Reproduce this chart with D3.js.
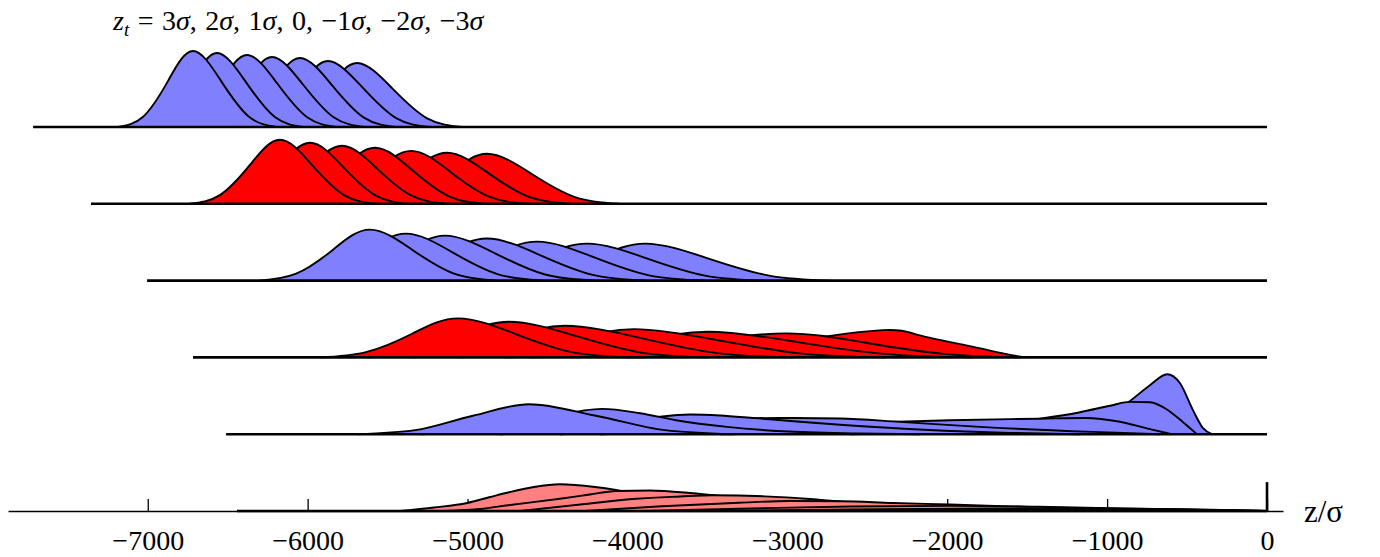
<!DOCTYPE html>
<html><head><meta charset="utf-8">
<script src="https://cdn.jsdelivr.net/npm/d3@7"></script>
<style>html,body{margin:0;padding:0;background:#fff;} svg{display:block;}</style>
</head><body>
<svg id="chart" width="1380" height="557"></svg>
<script>
// Initial offsets z_t of the seven bunch slices (legend order)
const ztLabels = ["3σ", "2σ", "1σ", "0", "−1σ", "−2σ", "−3σ"];
// x-axis ticks in units of z/σ
const tickValues = [-7000, -6000, -5000, -4000, -3000, -2000, -1000, 0];
// one entry per snapshot row, top to bottom
const rowColors = ["#8080ff", "#ff0000", "#8080ff", "#ff0000", "#8080ff", "#ff8080"];
const rowStart = [-7717, -7355, -7004, -6717, -6510, -6442];
const leftOnTop = [true, true, true, true, true, false];
// rows whose profiles are smooth bell shapes use a natural spline
const smoothRow = [true, true, true, true, false, false];
// wall at z = 0 (relative height)
const wallHeight = 38;

// Density profiles: [z/σ, relative density] knots, one list per z_t
const row1 = [
  [[-7186,0],[-7029,13.5],[-6873,60.7],[-6717,100],[-6542,60.7],[-6367,13.5],[-6192,0]],
  [[-7035,0],[-6879,13.1],[-6723,59.1],[-6567,97.4],[-6386,59.1],[-6205,13.1],[-6024,0]],
  [[-6868,0],[-6705,12.8],[-6542,57.5],[-6379,94.7],[-6191,57.5],[-6003,12.8],[-5815,0]],
  [[-6712,0],[-6549,12.4],[-6386,55.9],[-6223,92.1],[-6029,55.9],[-5835,12.4],[-5641,0]],
  [[-6555,0],[-6386,12.3],[-6217,55.1],[-6048,90.8],[-5848,55.1],[-5648,12.3],[-5448,0]],
  [[-6380,0],[-6211,11.7],[-6042,52.7],[-5873,86.8],[-5660,52.7],[-5447,11.7],[-5234,0]],
  [[-6216,0],[-6041,11.4],[-5866,51.1],[-5691,84.2],[-5472,51.1],[-5253,11.4],[-5034,0]]
];
const row2 = [
  [[-6737,0],[-6549,11.4],[-6361,51.1],[-6173,84.2],[-5973,51.1],[-5773,11.4],[-5573,0]],
  [[-6567,0],[-6373,10.8],[-6179,48.7],[-5985,80.3],[-5779,48.7],[-5573,10.8],[-5367,0]],
  [[-6403,0],[-6197,10.3],[-5991,46.3],[-5785,76.3],[-5566,46.3],[-5347,10.3],[-5128,0]],
  [[-6218,0],[-6005,9.9],[-5792,44.7],[-5579,73.7],[-5348,44.7],[-5117,9.9],[-4886,0]],
  [[-6028,0],[-5803,9.4],[-5578,42.3],[-5353,69.7],[-5109,42.3],[-4865,9.4],[-4621,0]],
  [[-5821,0],[-5590,9.1],[-5359,40.7],[-5128,67.1],[-4872,40.7],[-4616,9.1],[-4360,0]],
  [[-5571,0],[-5340,8.9],[-5109,39.9],[-4878,65.8],[-4603,39.9],[-4328,8.9],[-4053,0]]
];
const row3 = [
  [[-6303,0],[-6072,9.1],[-5841,40.7],[-5610,67.1],[-5347,40.7],[-5084,9.1],[-4821,0]],
  [[-6135,0],[-5885,8.3],[-5635,37.5],[-5385,61.8],[-5097,37.5],[-4809,8.3],[-4521,0]],
  [[-5891,0],[-5641,8.0],[-5391,35.9],[-5141,59.2],[-4828,35.9],[-4515,8.0],[-4202,0]],
  [[-5685,0],[-5416,7.5],[-5147,33.6],[-4878,55.3],[-4547,33.6],[-4216,7.5],[-3885,0]],
  [[-5447,0],[-5153,6.9],[-4859,31.1],[-4565,51.3],[-4215,31.1],[-3865,6.9],[-3515,0]],
  [[-5171,0],[-4865,6.6],[-4559,29.6],[-4253,48.7],[-3884,29.6],[-3515,6.6],[-3146,0]],
  [[-4790,0],[-4490,6.6],[-4190,29.6],[-3890,48.7],[-3502,29.6],[-3114,6.6],[-2726,0]]
];
const row4 = [
  [[-5923,0],[-5635,6.9],[-5347,31.1],[-5059,51.3],[-4703,31.1],[-4347,6.9],[-3991,0]],
  [[-5623,0],[-5329,6.3],[-5035,28.5],[-4741,47.0],[-4328,28.5],[-3915,6.3],[-3502,0]],
  [[-5347,0],[-5028,5.6],[-4709,25.3],[-4390,41.7],[-3915,25.3],[-3440,5.6],[-2965,0]],
  [[-5048,0],[-4685,5.0],[-4322,22.6],[-3959,37.2],[-3434,22.6],[-2909,5.0],[-2384,0]],
  [[-4771,0],[-4346,4.6],[-3921,20.5],[-3496,33.8],[-2946,20.5],[-2396,4.6],[-1846,0]],
  [[-4604,0],[-4072,4.3],[-3540,19.2],[-3008,31.6],[-2508,19.2],[-2008,4.3],[-1540,0]],
  [[-3998,0],[-3466,4.8],[-2934,21.8],[-2402,35.9],[-2170,28.9],[-1882,15.8],[-1651,5.3],[-1513,0]]
];
const row5 = [
  [[-5685,0],[-5328,5.3],[-4972,24.0],[-4615,39.5],[-4190,24.0],[-3765,5.3],[-3340,0]],
  [[-5285,0],[-4909,4.5],[-4534,20.3],[-4159,33.3],[-3921,27.6],[-3696,18.4],[-3377,9.6],[-3027,3.9],[-2545,1.1],[-2170,0]],
  [[-4797,0],[-4422,4.6],[-4046,14.5],[-3796,23.0],[-3609,25.9],[-3421,24.7],[-3202,21.1],[-2921,16.4],[-2670,12.5],[-2145,5.9],[-1607,1.7],[-1169,0]],
  [[-4422,0],[-4046,4.6],[-3671,13.2],[-3358,19.7],[-3046,21.4],[-2670,20.7],[-2295,16.2],[-1795,9.6],[-1088,3.0],[-669,0]],
  [[-4171,0],[-3546,3.9],[-2921,11.2],[-2420,15.8],[-1983,18.4],[-1420,20.4],[-1138,21.4],[-919,16.4],[-732,6.6],[-594,0]],
  [[-3421,0],[-2608,3.9],[-1983,10.5],[-1670,14.5],[-1420,20.4],[-1169,28.9],[-982,37.5],[-857,42.5],[-732,42.1],[-619,31.6],[-525,15.8],[-438,0]],
  [[-2608,0],[-1670,5.3],[-1295,10.5],[-1044,21.1],[-876,40.8],[-732,64.5],[-625,78.9],[-544,67.1],[-463,31.6],[-400,7.9],[-344,0]]
];
const row6 = [
  [[-5422,0],[-5210,4.6],[-5003,10.5],[-4859,18.4],[-4734,25.0],[-4584,31.6],[-4422,35.1],[-4203,31.6],[-4071,27.6],[-3859,18.4],[-3609,9.2],[-3296,2.6],[-2921,0]],
  [[-5141,0],[-4922,2.6],[-4747,7.5],[-4422,16.2],[-4234,21.7],[-4071,26.3],[-3859,27.0],[-3609,23.7],[-3465,20.7],[-3171,14.5],[-2796,7.9],[-2295,3.3],[-1670,0]],
  [[-4672,0],[-4265,9.2],[-3946,16.2],[-3671,19.1],[-3465,20.7],[-3140,19.3],[-2858,15.8],[-2608,11.2],[-2295,7.2],[-1795,3.9],[-1044,1.3],[-294,0]],
  [[-4265,0],[-3784,6.2],[-3302,10.9],[-2983,13.2],[-2658,12.9],[-2339,10.5],[-1983,8.6],[-1376,4.6],[-732,2.0],[-13,0]],
  [[-3921,0],[-3233,3.3],[-2608,5.9],[-1983,6.8],[-1357,5.3],[-732,2.6],[0,0]],
  [[-3546,0],[-2608,2.0],[-1670,3.4],[-1044,3.4],[-419,2.0],[0,0]],
  [[-3171,0],[-2295,0.8],[-1357,1.6],[-544,1.6],[0,0]]
];
const rows = [row1, row2, row3, row4, row5, row6];

const serif = "'Liberation Serif', 'Times New Roman', serif";
const svg = d3.select("#chart");

const x = d3.scaleLinear().domain([-7874, 100]).range([8, 1283]);
const rowY = d3.scaleLinear().domain([0, rows.length - 1]).range([127, 511]);
const dens = d3.scaleLinear().domain([0, 100]).range([0, 76]);

// horizontal axis along the last row
const axis = d3.axisBottom(x).tickValues(tickValues)
  .tickFormat(d3.format("d")).tickSizeInner(-12).tickSizeOuter(0).tickPadding(19.5);
const ax = svg.append("g").attr("transform", `translate(0,${rowY(rows.length - 1)})`).call(axis);
ax.select(".domain").attr("stroke", "#000").attr("stroke-width", 1.3);
ax.selectAll(".tick line").attr("stroke", "#000").attr("stroke-width", 1.3);
ax.selectAll(".tick text").attr("font-family", serif).attr("font-size", 28).attr("fill", "#000");

svg.append("text").attr("x", 1304).attr("y", 522)
  .attr("font-family", serif).attr("font-size", 31).text("z/σ");

// ridgeline rows
rows.forEach((curves, i) => {
  const base = rowY(i);
  const g = svg.append("g");
  const curve = smoothRow[i] ? d3.curveNatural : d3.curveMonotoneX;
  const area = d3.area().x(d => x(d[0])).y0(base).y1(d => base - dens(Math.max(0, d[1]))).curve(curve);
  const line = d3.line().x(d => x(d[0])).y(d => base - dens(d[1])).curve(curve);
  const order = leftOnTop[i] ? curves.slice().reverse() : curves.slice();
  order.forEach(c => {
    g.append("path").attr("d", area(c)).attr("fill", rowColors[i]);
    g.append("path").attr("d", line(c)).attr("fill", "none")
      .attr("stroke", "#000").attr("stroke-width", 1.9).attr("stroke-linejoin", "round");
  });
  g.append("line")
    .attr("x1", x(rowStart[i])).attr("x2", x(0))
    .attr("y1", base).attr("y2", base)
    .attr("stroke", "#000").attr("stroke-width", 2.6);
});

// wall at z = 0
svg.append("line")
  .attr("x1", x(0)).attr("x2", x(0))
  .attr("y1", rowY(rows.length - 1)).attr("y2", rowY(rows.length - 1) - dens(wallHeight))
  .attr("stroke", "#000").attr("stroke-width", 2.6);

// legend line listing z_t values
const title = svg.append("text").attr("x", 113).attr("y", 30)
  .attr("font-family", serif).attr("font-size", 28).attr("word-spacing", 1.5).attr("fill", "#000");
title.append("tspan").attr("font-style", "italic").text("z");
title.append("tspan").attr("font-style", "italic").attr("font-size", 19).attr("dy", 6).text("t");
title.append("tspan").attr("dy", -6).text(" = ");
ztLabels.forEach((lab, k) => {
  const parts = lab.split("σ");
  title.append("tspan").text(parts[0]);
  if (lab.includes("σ")) title.append("tspan").attr("font-style", "italic").text("σ");
  if (k < ztLabels.length - 1) title.append("tspan").text(", ");
});
</script>
</body></html>
